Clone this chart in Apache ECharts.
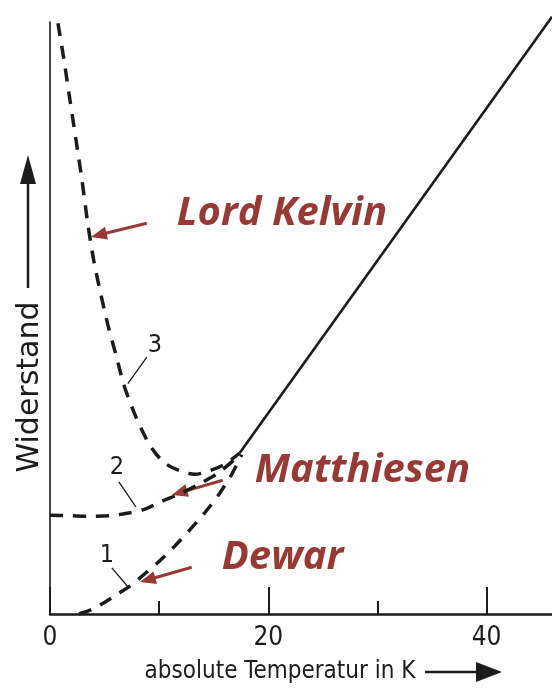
<!DOCTYPE html>
<html>
<head>
<meta charset="utf-8">
<style>
html,body{margin:0;padding:0;background:#fff;}
#c{width:552px;height:688px;}
</style>
<script src="https://cdn.jsdelivr.net/npm/echarts@6/dist/echarts.min.js"></script>
</head>
<body>
<div id="c"></div>
<script>
// ---------- data (temperature in K, resistance in arbitrary units) ----------
const xTickLabels = ['0', '20', '40'];
const xMinorTicks = [10, 30];

const kelvinCurve = [
  [0.73, 99.8], [1.28, 93.6], [1.83, 86.8], [2.38, 80.1], [2.93, 73.3],
  [3.48, 65.7], [4.03, 59.5], [4.67, 53.9], [5.31, 48.8], [6.04, 43.8],
  [6.77, 38.7], [7.50, 35.0], [8.33, 31.4], [9.33, 28.0], [10.52, 25.5],
  [11.89, 24.2], [13.27, 23.6], [14.64, 24.2], [16.01, 25.3], [17.38, 27.2]
];
const matthiesenCurve = [
  [0, 16.7], [1.83, 16.6], [3.66, 16.5], [5.49, 16.6], [7.32, 17.1],
  [8.69, 17.7], [10.06, 18.9], [11.89, 20.3], [13.72, 22.0], [15.55, 24.0],
  [17.38, 26.9]
];
const dewarCurve = [
  [2.65, 0], [3.84, 0.8], [5.03, 2.0], [6.22, 3.4], [7.32, 4.7],
  [8.69, 6.8], [10.06, 9.0], [11.44, 11.5], [12.81, 14.2], [14.18, 17.1],
  [15.55, 20.4], [16.65, 23.6], [17.57, 26.9]
];
const measuredLine = [[17.38, 27.2], [46, 100.9]];

const curveNumbers = ['1', '2', '3'];
const numberAnchors = [[5.21, 9.8], [6.13, 24.7], [9.61, 45.4]];
const numberLeaders = [
  [[5.67, 7.8], [7.14, 4.6]],
  [[6.31, 22.3], [7.87, 18.1]],
  [[8.87, 43.4], [7.14, 38.9]]
];

const nameLabels = ['Dewar', 'Matthiesen', 'Lord Kelvin'];
const nameAnchors = [[15.74, 9.6], [18.76, 24.3], [11.62, 67.6]];
const nameArrows = [
  [[12.99, 7.9], [8.23, 5.4]],
  [[15.83, 22.6], [11.16, 20.1]],
  [[8.87, 66.0], [3.75, 63.7]]
];

const xTitle = 'absolute Temperatur in K';
const yTitle = 'Widerstand';

// ---------- chart ----------
const ink = '#1c1c1c';
const red = '#973a36';
const narrow = '"Liberation Sans Narrow","DejaVu Sans Condensed","Liberation Sans",sans-serif';

const chart = echarts.init(document.getElementById('c'), null, {renderer: 'canvas'});

const dashed = {color: ink, width: 3.5, type: [13, 10], cap: 'butt'};

chart.setOption({
  animation: false,
  backgroundColor: '#ffffff',
  grid: {left: 50, right: 0, top: 22, bottom: 74},
  xAxis: [
    {
      type: 'value', min: 0, max: 46, position: 'bottom', offset: 0,
      axisLine: {show: true, onZero: false, lineStyle: {color: ink, width: 2.5}},
      axisTick: {show: true, inside: true, length: 27, customValues: xTickLabels.map(Number),
                 lineStyle: {color: ink, width: 2}},
      axisLabel: {
        show: true, margin: 24, verticalAlign: 'middle', customValues: xTickLabels.map(Number),
        color: ink, fontFamily: narrow, fontSize: 26,
        formatter: v => String(v)
      },
      splitLine: {show: false}
    },
    {
      type: 'value', min: 0, max: 46, position: 'bottom', offset: 0,
      axisLine: {show: false},
      axisTick: {show: true, inside: true, length: 13, customValues: xMinorTicks,
                 lineStyle: {color: ink, width: 2}},
      axisLabel: {show: false},
      splitLine: {show: false}
    }
  ],
  yAxis: {
    type: 'value', min: 0, max: 100,
    axisLine: {show: true, onZero: false, lineStyle: {color: ink, width: 1.6}},
    axisTick: {show: false}, axisLabel: {show: false}, splitLine: {show: false}
  },
  series: [
    {type: 'line', name: 'Lord Kelvin', data: kelvinCurve, smooth: 0.3, symbol: 'none', clip: false, lineStyle: dashed},
    {type: 'line', name: 'Matthiesen', data: matthiesenCurve, smooth: 0.3, symbol: 'none', clip: false, lineStyle: dashed},
    {type: 'line', name: 'Dewar', data: dewarCurve, smooth: 0.3, symbol: 'none', clip: false, lineStyle: dashed},
    {type: 'line', name: 'Messung', data: measuredLine, symbol: 'none', clip: false,
     lineStyle: {color: ink, width: 2.6}}
  ]
});

// ---------- annotations ----------
const P = p => chart.convertToPixel({xAxisIndex: 0, yAxisIndex: 0}, p);

function arrowHead(tip, from, len, half) {
  const dx = tip[0] - from[0], dy = tip[1] - from[1];
  const L = Math.hypot(dx, dy), ux = dx / L, uy = dy / L;
  const bx = tip[0] - ux * len, by = tip[1] - uy * len;
  return {
    base: [bx + ux * 2, by + uy * 2],
    pts: [tip, [bx - uy * half, by + ux * half], [bx + uy * half, by - ux * half]]
  };
}

const g = [];

nameArrows.forEach((a, i) => {
  const t = P(a[0]), h = P(a[1]);
  const hd = arrowHead(h, t, 16, 6.5);
  g.push({type: 'line', shape: {x1: t[0], y1: t[1], x2: hd.base[0], y2: hd.base[1]},
          style: {stroke: red, lineWidth: 3}});
  g.push({type: 'polygon', shape: {points: hd.pts}, style: {fill: red}});
  const p = P(nameAnchors[i]);
  g.push({type: 'text', x: p[0], y: p[1],
          style: {text: nameLabels[i], font: 'italic bold 40px "Open Sans", Lato, sans-serif',
                  fill: red, align: 'left', verticalAlign: 'middle'}});
});

numberLeaders.forEach((l, i) => {
  const a = P(l[0]), b = P(l[1]);
  g.push({type: 'line', shape: {x1: a[0], y1: a[1], x2: b[0], y2: b[1]},
          style: {stroke: ink, lineWidth: 1.3}});
  const p = P(numberAnchors[i]);
  g.push({type: 'text', x: p[0], y: p[1],
          style: {text: curveNumbers[i], font: '25px ' + narrow, fill: ink,
                  align: 'center', verticalAlign: 'middle'}});
});

// axis titles with arrows
g.push({type: 'text', x: 280, y: 672,
        style: {text: xTitle, font: '24px ' + narrow, fill: ink, align: 'center', verticalAlign: 'middle'}});
g.push({type: 'line', shape: {x1: 425, y1: 672, x2: 480, y2: 672}, style: {stroke: ink, lineWidth: 2.5}});
g.push({type: 'polygon', shape: {points: [[502, 672], [476, 662], [476, 682]]}, style: {fill: ink}});

g.push({type: 'text', x: 30, y: 387, rotation: Math.PI / 2,
        style: {text: yTitle, font: '30px "DejaVu Sans", sans-serif', fill: ink, align: 'center', verticalAlign: 'middle'}});
g.push({type: 'line', shape: {x1: 28, y1: 288, x2: 28, y2: 180}, style: {stroke: ink, lineWidth: 2.5}});
g.push({type: 'polygon', shape: {points: [[28, 155], [20, 184], [36, 184]]}, style: {fill: ink}});

chart.setOption({graphic: {elements: g}});
</script>
</body>
</html>
